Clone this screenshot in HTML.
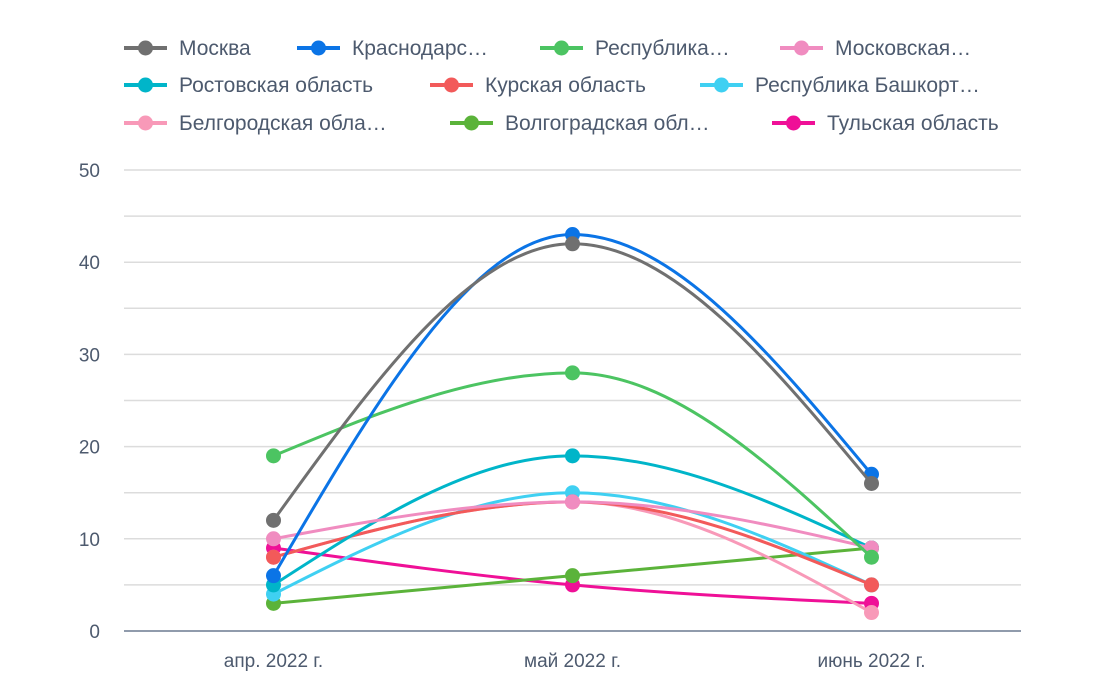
<!DOCTYPE html>
<html><head><meta charset="utf-8"><style>
body{margin:0;background:#fff;}
svg text{font-family:"Liberation Sans","DejaVu Sans",sans-serif;}
</style></head><body>
<svg id="chart" width="1110" height="692" xmlns="http://www.w3.org/2000/svg">
<g id="grid"></g>
<g id="axis"></g>
<g id="series"></g>
<g id="legend"></g>
</svg>
<script>
const categories = ["апр. 2022 г.", "май 2022 г.", "июнь 2022 г."];
const yTicks = [0, 10, 20, 30, 40, 50];
const seriesNames = ["Москва","Краснодарс…","Республика…","Московская…","Ростовская область","Курская область","Республика Башкорт…","Белгородская обла…","Волгоградская обл…","Тульская область"];
const seriesColors = ["#707070","#0b74e6","#4cc462","#f08cc0","#00b5c9","#f25a5a","#3fd0f2","#f899b8","#5bb33a","#ef1097"];
const sMoscow = [12, 42, 16];
const sKrasnodar = [6, 43, 17];
const sRespublika = [19, 28, 8];
const sMoskovskaya = [10, 14, 9];
const sRostov = [5, 19, 9];
const sKursk = [8, 14, 5];
const sBashkort = [4, 15, 5];
const sBelgorod = [8, 14, 2];
const sVolgograd = [3, 6, 9];
const sTula = [9, 5, 3];
const seriesValues = [sMoscow,sKrasnodar,sRespublika,sMoskovskaya,sRostov,sKursk,sBashkort,sBelgorod,sVolgograd,sTula];

const NS="http://www.w3.org/2000/svg";
const x0=124,x1=1021,y0=631,y1=170,yMax=50;
function xPos(i){return x0+(x1-x0)*(i+0.5)/categories.length;}
function yPos(v){return y0-(y0-y1)*v/yMax;}
function mk(tag,attrs,parent){const e=document.createElementNS(NS,tag);for(const k in attrs)e.setAttribute(k,attrs[k]);parent.appendChild(e);return e;}
const grid=document.getElementById('grid'),axis=document.getElementById('axis'),ser=document.getElementById('series'),leg=document.getElementById('legend');
for(let v=5;v<=yMax;v+=5){
  const l=mk('line',{x1:x0,x2:x1,y1:yPos(v),y2:yPos(v),stroke:'#dcdcdc','stroke-width':1.5},grid);
  
  
}
const base=mk('line',{x1:x0,x2:x1,y1:y0,y2:y0,stroke:'#6b7a90','stroke-width':1.5},axis);


yTicks.forEach(t=>{
  const tx=mk('text',{x:100,y:yPos(t)+7,'text-anchor':'end','font-size':19,fill:'#4d5a6e'},axis);
  tx.textContent=t;
  
  
});
categories.forEach((c,i)=>{
  const tx=mk('text',{x:xPos(i),y:667,'text-anchor':'middle','font-size':19,fill:'#4d5a6e'},axis);
  tx.textContent=c;
  
  
});
function monoPath(pts){
  const n=pts.length,d=[],m=[];
  for(let i=0;i<n-1;i++)d.push((pts[i+1][1]-pts[i][1])/(pts[i+1][0]-pts[i][0]));
  for(let i=0;i<n;i++){
    if(i===0)m.push(d[0]);else if(i===n-1)m.push(d[n-2]);
    else m.push(d[i-1]*d[i]<=0?0:(d[i-1]+d[i])/2);
  }
  // endpoints like d3 monotoneX
  if(n>2){m[0]=(3*d[0]-m[1])/2;m[n-1]=(3*d[n-2]-m[n-2])/2;
    if(m[0]*d[0]<0)m[0]=0;if(m[n-1]*d[n-2]<0)m[n-1]=0;}
  let p='M'+pts[0][0]+','+pts[0][1];
  for(let i=0;i<n-1;i++){
    const h=(pts[i+1][0]-pts[i][0])/3;
    p+=' C'+(pts[i][0]+h)+','+(pts[i][1]+m[i]*h)+' '+(pts[i+1][0]-h)+','+(pts[i+1][1]-m[i+1]*h)+' '+pts[i+1][0]+','+pts[i+1][1];
  }
  return p;
}
for(let s=seriesValues.length-1;s>=0;s--){
  const g=mk('g',{},ser);
  
  
  const pts=seriesValues[s].map((v,i)=>[xPos(i),yPos(v)]);
  const p=mk('path',{d:monoPath(pts),fill:'none',stroke:seriesColors[s],'stroke-width':3},g);
  
  
  pts.forEach(pt=>{
    const c=mk('circle',{cx:pt[0],cy:pt[1],r:7.5,fill:seriesColors[s]},g);
    
    
  });
}
const legPos=[[124,48],[297,48],[540,48],[780,48],[124,85],[430,85],[700,85],[124,123],[450,123],[772,123]];
seriesNames.forEach((n,i)=>{
  const [lx,ly]=legPos[i];
  const g=mk('g',{},leg);
  
  
  mk('line',{x1:lx,x2:lx+43,y1:ly,y2:ly,stroke:seriesColors[i],'stroke-width':4},g);
  mk('circle',{cx:lx+21.5,cy:ly,r:7.5,fill:seriesColors[i]},g);
  const t=mk('text',{x:lx+55,y:ly+7,'font-size':21,fill:'#4d5a6e'},g);
  t.textContent=n;
});
</script>
</body></html>
